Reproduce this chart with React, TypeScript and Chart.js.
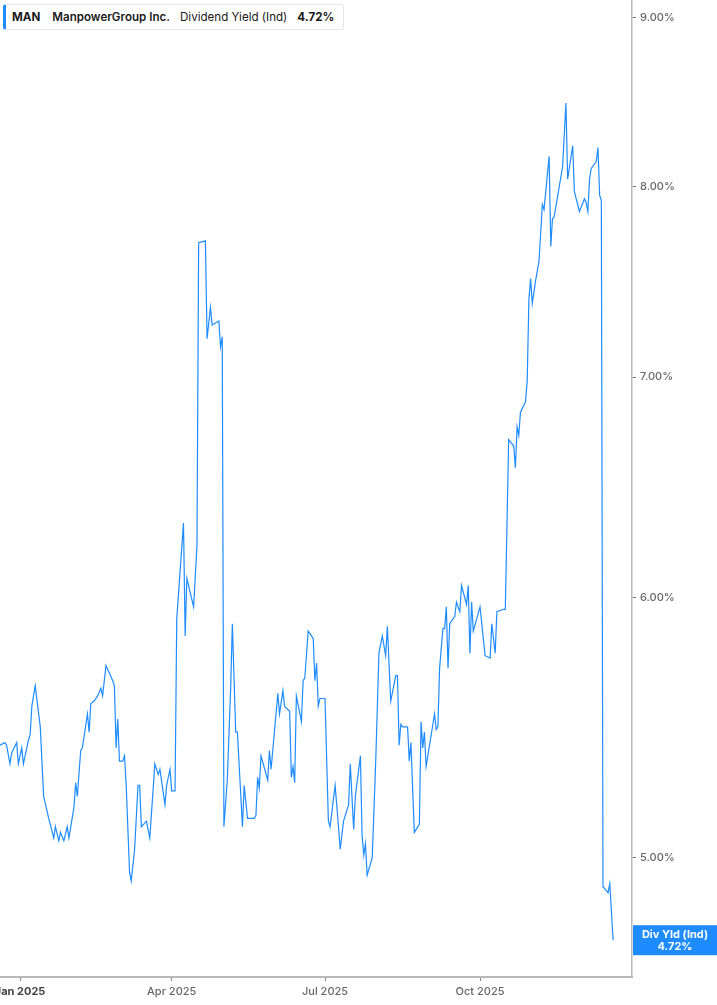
import React, { useEffect, useRef } from 'react';
import { Chart, registerables } from 'chart.js';

Chart.register(...registerables);

const ticker = 'MAN';
const company = 'ManpowerGroup Inc.';
const metric = 'Dividend Yield (Ind)';
const metricShort = 'Div Yld (Ind)';

// observation dates and dividend yield (%)
const dates = [
  '2024-12-20', '2024-12-23', '2024-12-24', '2024-12-26', '2024-12-27', '2024-12-30', '2024-12-31',
  '2025-01-02', '2025-01-03', '2025-01-06', '2025-01-07', '2025-01-08', '2025-01-10', '2025-01-13',
  '2025-01-15', '2025-01-18', '2025-01-21', '2025-01-22', '2025-01-24', '2025-01-25', '2025-01-27',
  '2025-01-29', '2025-01-30',
  '2025-02-02', '2025-02-03', '2025-02-04', '2025-02-06', '2025-02-07', '2025-02-10', '2025-02-11',
  '2025-02-12', '2025-02-14', '2025-02-16', '2025-02-18', '2025-02-19', '2025-02-21', '2025-02-25',
  '2025-02-26', '2025-02-27', '2025-02-28',
  '2025-03-01', '2025-03-03', '2025-03-04', '2025-03-05', '2025-03-07', '2025-03-08', '2025-03-10',
  '2025-03-12', '2025-03-13', '2025-03-14', '2025-03-17', '2025-03-19', '2025-03-22', '2025-03-24',
  '2025-03-25', '2025-03-28', '2025-03-29', '2025-03-31',
  '2025-04-01', '2025-04-03', '2025-04-04', '2025-04-08', '2025-04-09', '2025-04-10', '2025-04-14',
  '2025-04-16', '2025-04-17', '2025-04-21', '2025-04-22', '2025-04-24', '2025-04-25', '2025-04-29',
  '2025-04-30',
  '2025-05-01', '2025-05-02', '2025-05-04', '2025-05-06', '2025-05-07', '2025-05-09', '2025-05-10',
  '2025-05-13', '2025-05-14', '2025-05-16', '2025-05-20', '2025-05-21', '2025-05-22', '2025-05-23',
  '2025-05-24', '2025-05-28', '2025-05-29', '2025-05-30',
  '2025-06-03', '2025-06-04', '2025-06-06', '2025-06-07', '2025-06-10', '2025-06-11', '2025-06-12',
  '2025-06-13', '2025-06-14', '2025-06-17', '2025-06-18', '2025-06-19', '2025-06-21', '2025-06-24',
  '2025-06-25', '2025-06-26', '2025-06-27', '2025-06-28',
  '2025-07-01', '2025-07-03', '2025-07-04', '2025-07-07', '2025-07-09', '2025-07-10', '2025-07-12',
  '2025-07-15', '2025-07-16', '2025-07-18', '2025-07-19', '2025-07-22', '2025-07-23', '2025-07-24',
  '2025-07-25', '2025-07-26', '2025-07-29', '2025-07-31',
  '2025-08-02', '2025-08-04', '2025-08-06', '2025-08-07', '2025-08-09', '2025-08-12', '2025-08-13',
  '2025-08-14', '2025-08-15', '2025-08-16', '2025-08-19', '2025-08-20', '2025-08-21', '2025-08-23',
  '2025-08-26', '2025-08-27', '2025-08-28', '2025-08-29', '2025-08-30',
  '2025-09-04', '2025-09-05', '2025-09-06', '2025-09-07', '2025-09-09', '2025-09-10', '2025-09-11',
  '2025-09-12', '2025-09-13', '2025-09-16', '2025-09-17', '2025-09-19', '2025-09-20', '2025-09-23',
  '2025-09-24', '2025-09-25', '2025-09-26', '2025-09-27',
  '2025-10-01', '2025-10-04', '2025-10-07', '2025-10-08', '2025-10-10', '2025-10-11', '2025-10-15',
  '2025-10-16', '2025-10-18', '2025-10-21', '2025-10-22', '2025-10-23', '2025-10-24', '2025-10-25',
  '2025-10-28', '2025-10-29', '2025-10-30', '2025-10-31',
  '2025-11-01', '2025-11-03', '2025-11-05', '2025-11-07', '2025-11-08', '2025-11-11', '2025-11-12',
  '2025-11-13', '2025-11-14', '2025-11-19', '2025-11-21', '2025-11-22', '2025-11-25', '2025-11-26',
  '2025-11-29',
  '2025-12-02', '2025-12-03', '2025-12-04', '2025-12-05', '2025-12-06', '2025-12-09', '2025-12-10',
  '2025-12-11', '2025-12-12', '2025-12-13', '2025-12-16', '2025-12-17', '2025-12-19',
];

const yields = [
  5.41, 5.42, 5.41, 5.34, 5.38, 5.42, 5.34,
  5.40, 5.34, 5.43, 5.45, 5.56, 5.64, 5.48,
  5.22, 5.14, 5.07, 5.11, 5.06, 5.09, 5.06,
  5.11, 5.07,
  5.18, 5.27, 5.22, 5.39, 5.40, 5.53, 5.46,
  5.57, 5.58, 5.60, 5.63, 5.60, 5.72, 5.66,
  5.64, 5.40, 5.51,
  5.35, 5.35, 5.37, 5.26, 4.95, 4.92, 5.03,
  5.26, 5.26, 5.11, 5.13, 5.07, 5.34, 5.30,
  5.32, 5.19, 5.26, 5.32,
  5.24, 5.24, 5.91, 6.32, 5.84, 6.08, 5.96,
  6.22, 7.69, 7.70, 7.19, 7.35, 7.26, 7.28,
  7.15,
  7.20, 5.11, 5.28, 5.63, 5.89, 5.46, 5.46,
  5.11, 5.26, 5.14, 5.14, 5.15, 5.29, 5.25,
  5.37, 5.28, 5.39, 5.32,
  5.61, 5.53, 5.62, 5.56, 5.54, 5.29, 5.33,
  5.27, 5.60, 5.50, 5.66, 5.67, 5.86, 5.83,
  5.66, 5.73, 5.56, 5.59,
  5.59, 5.13, 5.11, 5.26, 5.11, 5.03, 5.13,
  5.19, 5.34, 5.10, 5.22, 5.37, 5.08, 5.01,
  5.05, 4.94, 5.00, 5.33,
  5.77, 5.84, 5.76, 5.88, 5.58, 5.68, 5.68,
  5.41, 5.49, 5.48, 5.48, 5.35, 5.42, 5.09,
  5.12, 5.50, 5.40, 5.46, 5.33,
  5.53, 5.47, 5.48, 5.71, 5.87, 5.87, 5.96,
  5.71, 5.89, 5.92, 5.98, 5.94, 6.05, 5.97,
  6.05, 5.77, 5.98, 5.86,
  5.96, 5.76, 5.75, 5.89, 5.77, 5.94, 5.95,
  5.95, 6.70, 6.67, 6.57, 6.76, 6.72, 6.83,
  6.88, 6.98, 7.39, 7.50,
  7.37, 7.49, 7.59, 7.90, 7.87, 8.17, 7.67,
  7.82, 7.83, 8.11, 8.48, 8.04, 8.23, 7.97,
  7.86,
  7.93, 7.91, 7.86, 8.04, 8.10, 8.14, 8.22,
  7.95, 7.92, 4.90, 4.88, 4.91, 4.72,
];

const yTickValues = [5, 6, 7, 8, 9];
const xTickDates = ['2025-01-01', '2025-04-01', '2025-07-01', '2025-10-01'];
const xTickLabels = ['Jan 2025', 'Apr 2025', 'Jul 2025', 'Oct 2025'];

const BLUE = '#1e8cff';
const FONT = 'Inter, "Noto Sans", sans-serif';

const dayOf = (s: string) => (Date.parse(s) - Date.UTC(2025, 0, 1)) / 86400000;

const lastValue = yields[yields.length - 1];

const endLabel = {
  id: 'endLabel',
  afterDraw(chart: any) {
    const { ctx } = chart;
    const yScale = chart.scales.y;
    const py = yScale.getPixelForValue(lastValue);
    const left = yScale.left + 1;
    const right = chart.width;
    ctx.save();
    ctx.fillStyle = BLUE;
    ctx.fillRect(left, py - 15, right - left, 30);
    ctx.fillStyle = '#fff';
    ctx.font = `bold 11px ${FONT}`;
    ctx.textAlign = 'center';
    ctx.textBaseline = 'middle';
    const cx = (left + right) / 2;
    ctx.fillText(metricShort, cx, py - 6);
    ctx.fillText(`${lastValue.toFixed(2)}%`, cx, py + 6);
    ctx.restore();
  },
};

const YieldChart: React.FC = () => {
  const canvasRef = useRef<HTMLCanvasElement>(null);

  useEffect(() => {
    if (!canvasRef.current) return;
    const chart = new Chart(canvasRef.current, {
      type: 'line',
      data: {
        datasets: [
          {
            label: metric,
            data: dates.map((d, i) => ({ x: dayOf(d), y: yields[i] })),
            borderColor: BLUE,
            borderWidth: 1.2,
            pointRadius: 0,
            tension: 0,
            fill: false,
          },
        ],
      },
      options: {
        responsive: false,
        animation: false,
        layout: { padding: 0 },
        plugins: {
          legend: { display: false },
          tooltip: { enabled: false },
        },
        scales: {
          x: {
            type: 'linear',
            min: -11.9,
            max: 363.2,
            afterBuildTicks: (s: any) => {
              s.ticks = xTickDates.map((d) => ({ value: dayOf(d) }));
            },
            afterFit: (s: any) => {
              s.height = 28;
              s.paddingLeft = 0;
              s.paddingRight = 0;
            },
            grid: { drawOnChartArea: false, tickLength: 4, color: '#888' },
            border: { color: '#b8b8b8', width: 2 },
            ticks: {
              autoSkip: false,
              maxRotation: 0,
              padding: 4,
              callback: (_v: any, i: number) => xTickLabels[i],
              font: (c: any) => ({ family: FONT, size: 11, weight: c.index === 0 ? 'bold' : '500' }),
              color: (c: any) => (c.index === 0 ? '#444' : '#666'),
            },
          },
          y: {
            type: 'logarithmic',
            position: 'right',
            min: 4.6162,
            max: 9.1139,
            afterBuildTicks: (s: any) => {
              s.ticks = yTickValues.map((v) => ({ value: v }));
            },
            afterFit: (s: any) => {
              s.width = 85;
              s.paddingTop = 0;
              s.paddingBottom = 0;
            },
            grid: { drawOnChartArea: false, tickLength: 4, color: '#777' },
            border: { color: '#b8b8b8', width: 1.5 },
            ticks: {
              padding: 4,
              callback: (v: any) => `${Number(v).toFixed(2)}%`,
              font: { family: FONT, size: 11, weight: '500' },
              color: '#666',
            },
          },
        },
      },
      plugins: [endLabel],
    });
    return () => chart.destroy();
  }, []);

  return <canvas ref={canvasRef} width={717} height={1005} />;
};

export default function App() {
  return (
    <div style={{ position: 'fixed', left: 0, top: 0, width: 717, height: 1005, background: '#fff' }}>
      <YieldChart />
      <div
        style={{
          position: 'absolute',
          left: 3,
          top: 4,
          width: 341,
          height: 26,
          boxSizing: 'border-box',
          border: '1px solid #e6e6e6',
          borderLeft: `3px solid ${BLUE}`,
          borderRadius: 3,
          background: '#fff',
          display: 'flex',
          alignItems: 'center',
          paddingLeft: 6,
          fontFamily: FONT,
          fontSize: 11.6,
          color: '#1a1a1a',
          whiteSpace: 'nowrap',
        }}
      >
        <span style={{ fontWeight: 700 }}>{ticker}</span>
        <span style={{ fontWeight: 600, marginLeft: 12 }}>{company}</span>
        <span style={{ marginLeft: 10 }}>{metric}</span>
        <span style={{ fontWeight: 700, marginLeft: 10 }}>{lastValue.toFixed(2)}%</span>
      </div>
    </div>
  );
}
